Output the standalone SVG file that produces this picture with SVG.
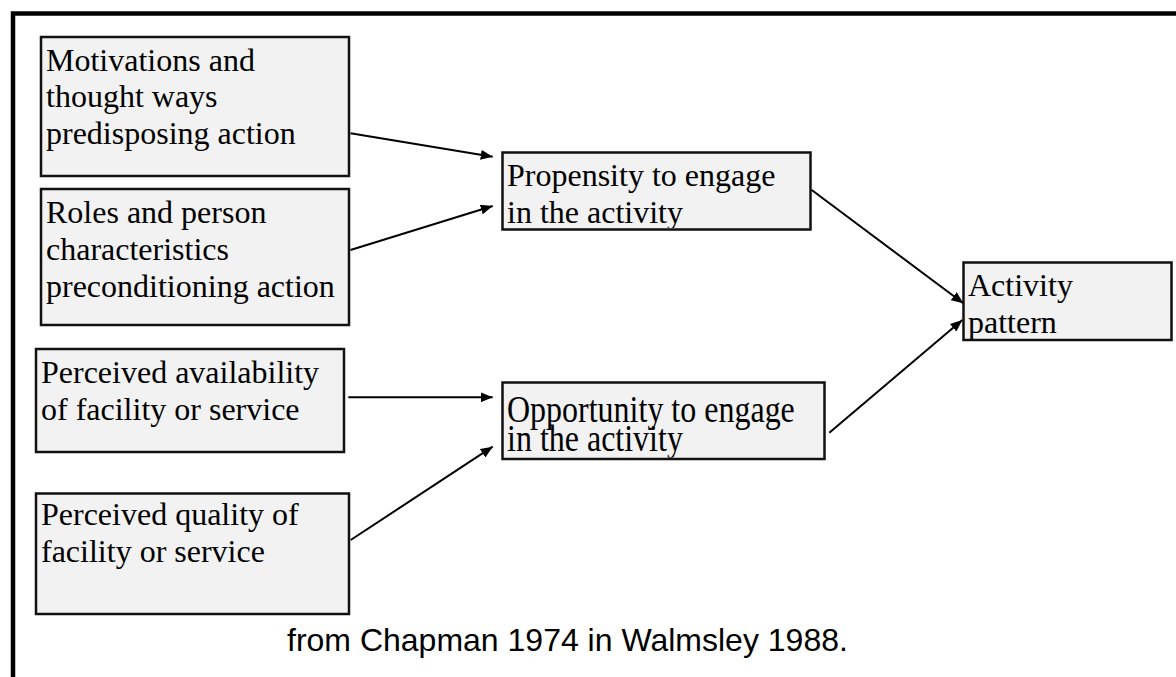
<svg xmlns="http://www.w3.org/2000/svg" width="1176" height="677" viewBox="0 0 1176 677">
<style>
.box{fill:#f2f2f2;stroke:#111;stroke-width:2.5}
.t{font-family:"Liberation Serif","Times New Roman",serif;font-size:32px;fill:#000}
.cap{font-family:"Liberation Sans",Arial,sans-serif;font-size:32px;fill:#000}
.c{stroke:#000;stroke-width:2;fill:none;marker-end:url(#ah)}
</style>
<defs>
<marker id="ah" markerUnits="userSpaceOnUse" markerWidth="12" markerHeight="10" refX="12" refY="5" orient="auto">
<path d="M0,0 L12,5 L0,10 Z" fill="#000"/>
</marker>
<clipPath id="cp1"><rect x="503" y="153" width="307" height="75"/></clipPath>
<clipPath id="cp2"><rect x="503" y="383" width="321" height="74.5"/></clipPath>
<clipPath id="cp3"><rect x="964" y="263" width="207" height="76"/></clipPath>
</defs>
<rect x="13" y="13.5" width="1200" height="700" fill="none" stroke="#000" stroke-width="4.5"/>
<g id="n1"><rect class="box" x="41" y="37" width="308" height="139"/>
<text class="t" x="46" y="70.5">Motivations and</text>
<text class="t" x="46" y="107">thought ways</text>
<text class="t" x="46" y="144">predisposing action</text></g>
<g id="n2"><rect class="box" x="41" y="189" width="308" height="136"/>
<text class="t" x="46" y="223">Roles and person</text>
<text class="t" x="46" y="259.5">characteristics</text>
<text class="t" x="46" y="296.5">preconditioning action</text></g>
<g id="n3"><rect class="box" x="36" y="349" width="308" height="103"/>
<text class="t" x="41" y="382.5">Perceived availability</text>
<text class="t" x="41" y="419.5">of facility or service</text></g>
<g id="n4"><rect class="box" x="36" y="493.5" width="313" height="120.5"/>
<text class="t" x="41" y="525">Perceived quality of</text>
<text class="t" x="41" y="562">facility or service</text></g>
<g id="n5"><rect class="box" x="502.5" y="152.5" width="308" height="77"/>
<g clip-path="url(#cp1)"><text class="t" x="507" y="186">Propensity to engage</text>
<text class="t" x="507" y="222.5">in the activity</text></g></g>
<g id="n6"><rect class="box" x="502.5" y="382.5" width="322" height="76.5"/>
<g clip-path="url(#cp2)"><text class="t" transform="translate(507,422) scale(1,1.18)">Opportunity to engage</text>
<text class="t" transform="translate(507,451) scale(1,1.18)">in the activity</text></g></g>
<g id="n7"><rect class="box" x="963.5" y="262.5" width="208" height="77.5"/>
<g clip-path="url(#cp3)"><text class="t" x="968" y="295.5">Activity</text>
<text class="t" x="968" y="332.5">pattern</text></g></g>
<g id="connectors">
<line class="c" x1="350.5" y1="133.3" x2="492.7" y2="156.7"/>
<line class="c" x1="350.5" y1="250" x2="492.7" y2="206"/>
<line class="c" x1="348.3" y1="397.3" x2="492.7" y2="397.3"/>
<line class="c" x1="350.7" y1="540" x2="492.7" y2="446.7"/>
<line class="c" x1="811.7" y1="190" x2="963.3" y2="303.3"/>
<line class="c" x1="829.3" y1="432.7" x2="962.3" y2="320"/>
</g>
<text class="cap" x="287" y="651">from Chapman 1974 in Walmsley 1988.</text>
</svg>
